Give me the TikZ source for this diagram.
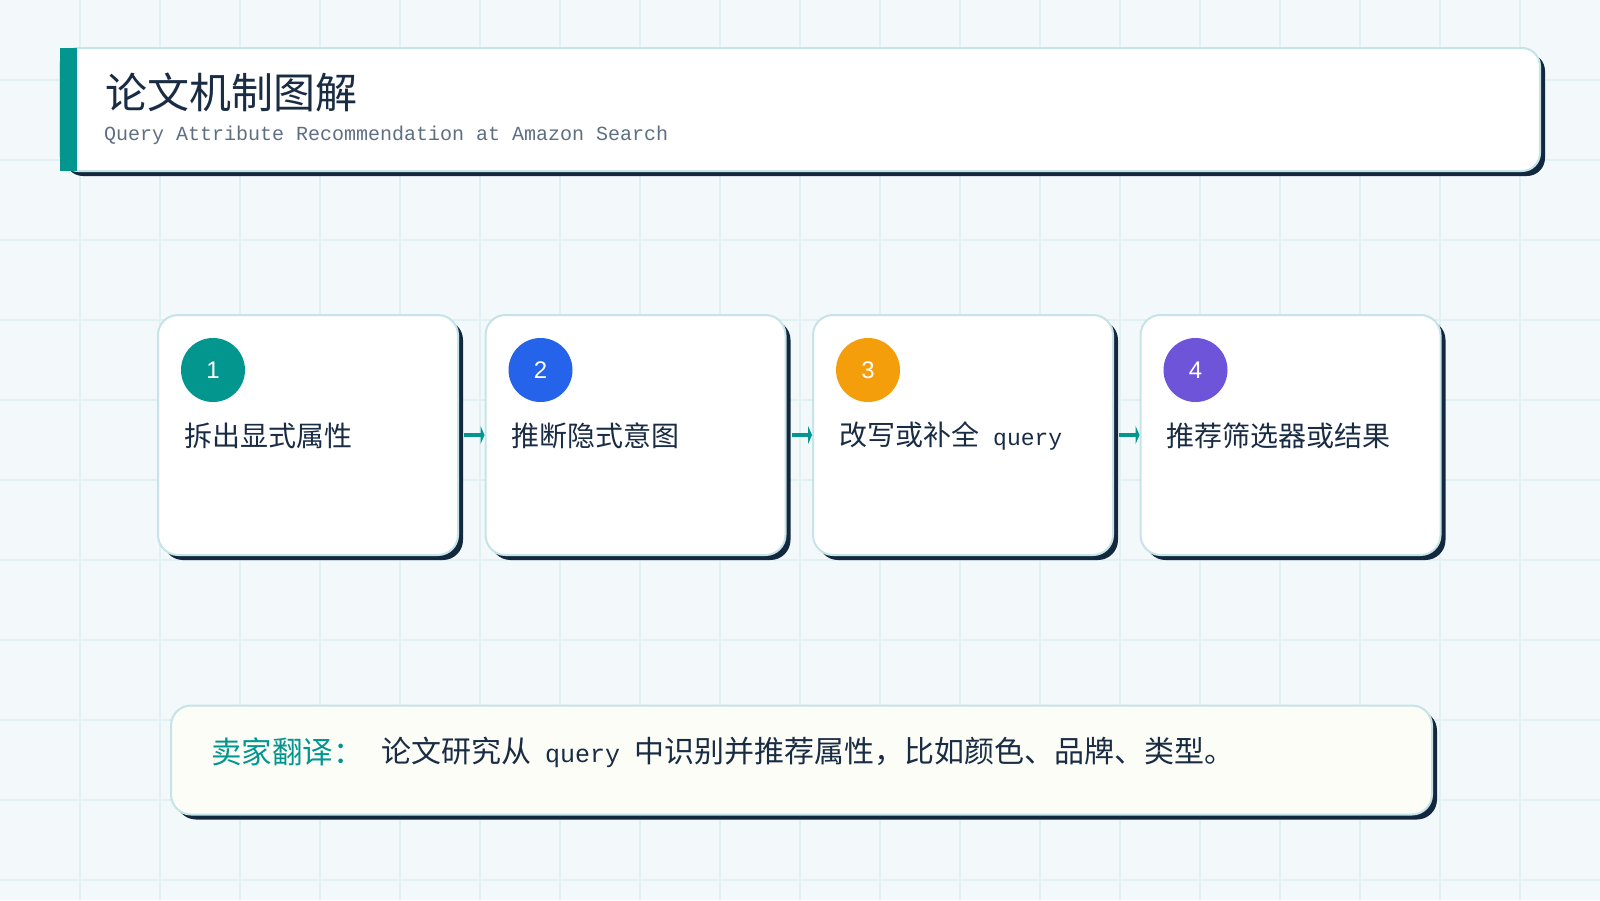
\documentclass[tikz,border=0pt]{standalone}
\usepackage{fontspec}
\setmainfont{Noto Sans CJK SC}
\newfontfamily\monofont{Liberation Mono}
\newfontfamily\numfont{Liberation Sans}
\usepackage{tikz}
\usetikzlibrary{arrows.meta,shadows}
\usepackage{xcolor}
\definecolor{bgpaper}{HTML}{F3F9FB}
\definecolor{gridcol}{HTML}{E0F0F3}
\definecolor{navy}{HTML}{12283F}
\definecolor{inkdark}{HTML}{1A2C44}
\definecolor{subgray}{HTML}{5F6F82}
\definecolor{edgecol}{HTML}{C6E3E8}
\definecolor{tealmain}{HTML}{03968F}
\definecolor{stepblue}{HTML}{2563EB}
\definecolor{steporange}{HTML}{F59E0B}
\definecolor{steppurple}{HTML}{6D54D8}
\definecolor{notefill}{HTML}{FBFDF6}

\tikzset{
  shadowed/.style={drop shadow={shadow xshift=5pt,shadow yshift=-5pt,fill=navy,opacity=1}},
  card/.style={shadowed,draw=edgecol,line width=2pt,fill=white,rounded corners=20pt,
    minimum width=300pt,minimum height=240pt,inner sep=0pt},
  badge/.style={circle,minimum size=64pt,inner sep=0pt,text=white,
    font=\numfont\fontsize{24}{28}\selectfont},
  cardtext/.style={anchor=west,inner sep=0pt,text=inkdark,font=\fontsize{28}{34}\selectfont},
  flow/.style={draw=tealmain,line width=4pt,-{Triangle[length=4pt,width=18pt]}},
}

\begin{document}
\begin{tikzpicture}[x=1pt,y=-1pt]
    % paper and grid
    \fill[bgpaper] (0,0) rectangle (1600,900);
    \useasboundingbox (0,0) rectangle (1600,900);
    \foreach \gx in {80,160,...,1520}
        \draw[gridcol,line width=1.2pt] (\gx,0) -- (\gx,900);
    \foreach \gy in {80,160,...,880}
        \draw[gridcol,line width=1.2pt] (0,\gy) -- (1600,\gy);

    % header
    \draw[shadowed,draw=edgecol,line width=2pt,fill=white,rounded corners=18pt] (60,48) rectangle (1540,171);
    \fill[tealmain] (60,48) rectangle (77,171);
    \node[anchor=west,inner sep=0pt,text=inkdark,font=\fontsize{42}{50}\selectfont] (title) at (105,92) {论文机制图解};
    \node[anchor=west,inner sep=0pt,text=subgray,font=\monofont\fontsize{20}{24}\selectfont] (subtitle) at (104,135) {Query Attribute Recommendation at Amazon Search};

    % four steps
    \node[card] (card1) at (308,435) {};
    \node[card] (card2) at (635.5,435) {};
    \node[card] (card3) at (963,435) {};
    \node[card] (card4) at (1290.5,435) {};

    \node[badge,fill=tealmain] (num1) at (213,370) {1};
    \node[badge,fill=stepblue] (num2) at (540.5,370) {2};
    \node[badge,fill=steporange] (num3) at (868,370) {3};
    \node[badge,fill=steppurple] (num4) at (1195.5,370) {4};

    \node[cardtext] (text1) at (184,436) {拆出显式属性};
    \node[cardtext] (text2) at (511.5,436) {推断隐式意图};
    \node[cardtext] (text3) at (839,436) {改写或补全\hspace{14pt}{\monofont\fontsize{23}{28}\selectfont query}};
    \node[cardtext] (text4) at (1166.5,436) {推荐筛选器或结果};

    % connectors
    \draw[flow] ([xshift=5pt]card1.east) -- (card2.west);
    \draw[flow] ([xshift=5pt]card2.east) -- (card3.west);
    \draw[flow] ([xshift=5pt]card3.east) -- (card4.west);

    % seller note
    \node[card,fill=notefill,minimum width=1261pt,minimum height=109pt] (note) at (801.5,760) {};
    \node[anchor=west,inner sep=0pt,text=tealmain,font=\fontsize{30.5}{36}\selectfont] (notelabel) at (211,752) {卖家翻译：};
    \node[anchor=west,inner sep=0pt,text=inkdark,font=\fontsize{30}{36}\selectfont] (notetext) at (381,752)
        {论文研究从\hspace{14pt}{\monofont\fontsize{25}{30}\selectfont query}\hspace{14pt}中识别并推荐属性，比如颜色、品牌、类型。};
\end{tikzpicture}
\end{document}
